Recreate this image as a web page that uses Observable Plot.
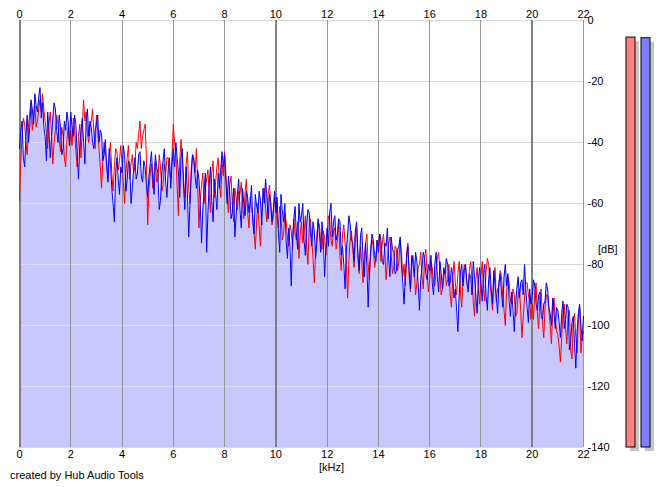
<!DOCTYPE html>
<html><head><meta charset="utf-8">
<script src="https://cdn.jsdelivr.net/npm/d3@7"></script>
<script src="https://cdn.jsdelivr.net/npm/@observablehq/plot@0.6"></script>
<style>
html,body{margin:0;padding:0;background:#fff;}
#wrap{position:relative;width:665px;height:487px;overflow:hidden;font-family:"Liberation Sans",Arial,sans-serif;}
#wrap svg{position:absolute;left:0;top:0;}
.lbl{position:absolute;font-size:11px;color:#000;white-space:nowrap;line-height:11px;}
</style></head><body>
<div id="wrap"></div>
<script>
// frequency bin spacing (kHz)
const binStep = 0.05;
// right channel (blue), dB, one value per 0.05 kHz from 0 to 22 kHz (20 per row = 1 kHz)
const blueDb = [
-42,-36,-33,-45,-48,-38,-31,-40,-35,-26,-29,-34,-24,-28,-30,-25,-22,-32,-27,-35,
-38,-46,-30,-36,-45,-38,-32,-27,-29,-36,-40,-31,-35,-44,-42,-33,-36,-30,-33,-41,
-30,-35,-38,-31,-34,-44,-52,-41,-36,-32,-40,-47,-33,-29,-38,-33,-35,-40,-42,-36,
-34,-31,-40,-36,-37,-46,-44,-39,-48,-53,-42,-47,-55,-60,-66,-50,-45,-52,-57,-48,
-50,-41,-44,-56,-52,-46,-47,-60,-55,-49,-45,-52,-50,-44,-43,-51,-53,-46,-48,-54,
-58,-51,-47,-43,-52,-57,-44,-48,-50,-62,-59,-50,-46,-42,-53,-58,-49,-45,-55,-47,
-42,-48,-40,-45,-50,-58,-45,-42,-55,-62,-48,-57,-71,-60,-50,-44,-46,-51,-55,-49,
-52,-60,-73,-62,-56,-50,-76,-63,-54,-48,-59,-66,-52,-57,-62,-50,-55,-49,-43,-48,
-44,-53,-60,-51,-56,-65,-63,-55,-71,-64,-57,-52,-62,-68,-55,-60,-64,-56,-58,-63,
-60,-54,-66,-70,-57,-61,-63,-56,-59,-67,-55,-60,-52,-58,-65,-57,-60,-66,-62,-56,
-63,-58,-70,-76,-57,-62,-66,-60,-72,-78,-68,-74,-87,-72,-65,-61,-70,-75,-60,-66,
-64,-60,-72,-77,-67,-62,-63,-70,-74,-66,-69,-78,-73,-65,-70,-76,-66,-72,-84,-75,
-68,-74,-63,-60,-71,-66,-64,-72,-70,-65,-66,-77,-74,-80,-88,-75,-70,-64,-67,-72,
-73,-79,-69,-66,-76,-82,-71,-68,-78,-84,-73,-80,-94,-82,-75,-70,-72,-77,-79,-72,
-76,-70,-72,-79,-80,-73,-74,-68,-78,-84,-71,-75,-76,-83,-82,-75,-74,-71,-80,-86,
-93,-84,-78,-74,-82,-88,-77,-80,-84,-76,-79,-86,-95,-85,-81,-76,-78,-83,-85,-80,
-82,-77,-86,-90,-80,-76,-84,-89,-79,-83,-88,-81,-83,-78,-80,-87,-86,-81,-84,-91,
-88,-95,-102,-90,-83,-80,-87,-82,-80,-86,-89,-83,-84,-90,-79,-84,-90,-96,-85,-81,
-86,-92,-83,-80,-90,-95,-85,-81,-88,-93,-82,-87,-91,-96,-86,-83,-89,-94,-84,-80,
-87,-83,-92,-97,-89,-95,-102,-93,-88,-84,-91,-86,-85,-90,-80,-88,-94,-99,-88,-93,
-90,-85,-87,-93,-95,-90,-89,-97,-98,-93,-92,-86,-88,-94,-96,-100,-91,-96,-101,-94,
-95,-99,-104,-96,-92,-101,-98,-93,-94,-108,-105,-99,-97,-106,-114,-102,-96,-93,-100,-105,
-97
];
// left channel (red), dB
const redDb = [
-59,-46,-38,-32,-34,-40,-44,-35,-30,-27,-36,-31,-28,-35,-33,-29,-26,-30,-24,-29,
-33,-37,-42,-34,-30,-38,-47,-40,-36,-31,-34,-39,-43,-35,-38,-45,-48,-39,-35,-41,
-36,-41,-32,-36,-43,-48,-38,-34,-45,-35,-26,-33,-30,-37,-40,-35,-33,-29,-37,-42,
-31,-36,-42,-48,-55,-46,-40,-43,-46,-52,-44,-40,-50,-56,-48,-42,-43,-49,-46,-41,
-47,-53,-60,-50,-45,-41,-52,-47,-44,-50,-48,-40,-42,-37,-33,-42,-38,-36,-34,-45,
-67,-55,-50,-47,-55,-50,-46,-53,-52,-44,-48,-56,-54,-47,-50,-45,-45,-50,-52,-44,
-34,-40,-44,-55,-64,-46,-39,-45,-52,-58,-47,-43,-55,-60,-49,-44,-45,-50,-42,-54,
-68,-59,-54,-50,-60,-55,-52,-49,-57,-63,-50,-46,-58,-53,-48,-45,-53,-58,-47,-51,
-43,-50,-58,-63,-54,-51,-60,-66,-55,-58,-62,-56,-57,-53,-60,-65,-56,-52,-63,-68,
-58,-62,-64,-70,-75,-66,-60,-68,-74,-63,-58,-55,-62,-66,-57,-54,-60,-67,-64,-58,
-61,-65,-68,-61,-64,-72,-70,-63,-66,-71,-74,-67,-69,-75,-65,-70,-72,-66,-78,-70,
-66,-73,-70,-64,-74,-80,-68,-65,-72,-78,-86,-76,-70,-66,-67,-73,-75,-69,-71,-77,
-70,-64,-66,-72,-74,-69,-68,-75,-72,-66,-77,-82,-70,-67,-73,-80,-91,-78,-72,-69,
-75,-81,-71,-68,-78,-83,-74,-79,-86,-77,-73,-70,-80,-85,-76,-72,-74,-81,-78,-72,
-74,-70,-79,-73,-70,-76,-85,-79,-73,-71,-77,-83,-81,-74,-75,-82,-79,-72,-76,-84,
-80,-87,-76,-73,-84,-89,-79,-77,-82,-90,-86,-81,-80,-76,-84,-88,-78,-75,-83,-89,
-85,-79,-81,-86,-87,-82,-78,-76,-83,-90,-88,-84,-82,-87,-85,-80,-90,-94,-84,-79,
-86,-90,-83,-79,-89,-94,-84,-80,-81,-86,-87,-82,-79,-85,-92,-97,-85,-81,-88,-93,
-84,-79,-88,-92,-82,-78,-80,-86,-90,-95,-85,-81,-92,-88,-87,-82,-84,-90,-95,-100,
-89,-84,-86,-92,-93,-88,-90,-97,-96,-90,-88,-95,-104,-97,-91,-86,-86,-90,-92,-98,
-93,-98,-89,-86,-96,-101,-91,-88,-99,-104,-94,-90,-90,-95,-100,-106,-95,-91,-98,-102,
-103,-107,-112,-104,-96,-93,-101,-106,-97,-95,-108,-111,-99,-96,-104,-109,-98,-94,-109,-104,
-102
];
const xDomain = [0, 22];
const yDomain = [-140, 0];
const xTicks = [0,2,4,6,8,10,12,14,16,18,20,22];
const xGridMajor = [0,10,20];
const xGridMinor = [2,4,6,8,12,14,16,18,22];
const yTicks = [0,-20,-40,-60,-80,-100,-120,-140];
// level meters
const meterChannels = ["L","R"];
const meterLevels = [-5.6,-5.8];
const meterColors = ["#ff8080","#8080ff"];

const data = blueDb.map((b,i)=>({f: i*binStep, b, r: redDb[i]}));
const meters = meterChannels.map((ch,i)=>({ch, level: meterLevels[i], color: meterColors[i]}));
const fmt = d => String(d);
const baseStyle = {fontSize:"11px", fontFamily:"Liberation Sans, Arial, sans-serif", background:"transparent", color:"#000", overflow:"visible"};

const main = Plot.plot({
  width:665, height:487,
  marginLeft:19, marginRight:82, marginTop:20, marginBottom:40,
  style: baseStyle,
  x:{domain:xDomain},
  y:{domain:yDomain},
  marks:[
    Plot.ruleY(yTicks,{stroke:"#c0c0c0", shapeRendering:"crispEdges"}),
    Plot.areaY(data,{x:"f", y1:()=>yDomain[0], y2:"b", fill:"#c8c8ff"}),
    Plot.ruleY(yTicks,{stroke:"#ffffff", strokeOpacity:0.35, shapeRendering:"crispEdges"}),
    Plot.ruleX(xGridMinor,{stroke:"#8c8c8c", strokeOpacity:0.9, shapeRendering:"crispEdges"}),
    Plot.ruleX(xGridMajor,{stroke:"#808080", strokeWidth:2, shapeRendering:"crispEdges"}),
    Plot.line(data,{x:"f", y:"r", stroke:"#ff0000", strokeWidth:1}),
    Plot.line(data,{x:"f", y:"b", stroke:"#0000ff", strokeWidth:1}),
    Plot.axisX({anchor:"top", ticks:xTicks, tickSize:0, tickPadding:3, tickFormat:fmt, label:null}),
    Plot.axisX({anchor:"bottom", ticks:xTicks, tickSize:0, tickPadding:3, tickFormat:fmt, label:null}),
    Plot.axisY({anchor:"right", ticks:yTicks, tickSize:0, tickPadding:4, tickFormat:fmt, label:null})
  ]
});

const meterPlot = Plot.plot({
  width:665, height:487,
  marginLeft:625.5, marginRight:14.7, marginTop:20, marginBottom:40,
  style: baseStyle,
  x:{type:"band", domain:meterChannels, paddingInner:0.43, paddingOuter:0, axis:null},
  y:{domain:yDomain, axis:null},
  color:{type:"identity"},
  marks:[
    Plot.barY(meters,{x:"ch", y1:()=>yDomain[0], y2:"level", fill:"#c4c4c4", dx:4, dy:4, insetLeft:0, insetRight:0}),
    Plot.barY(meters,{x:"ch", y1:()=>yDomain[0], y2:"level", fill:"color", stroke:"#000", strokeWidth:1, insetLeft:0, insetRight:0})
  ]
});

const wrap = document.getElementById("wrap");
wrap.appendChild(main);
wrap.appendChild(meterPlot);
const labels = [
  {text:"[dB]", left:598, top:244},
  {text:"[kHz]", left:319, top:462},
  {text:"created by Hub Audio Tools", left:10, top:470}
];
for (const l of labels) {
  const d = document.createElement("div");
  d.className = "lbl";
  d.textContent = l.text;
  d.style.left = l.left + "px";
  d.style.top = l.top + "px";
  wrap.appendChild(d);
}
</script>
</body></html>
